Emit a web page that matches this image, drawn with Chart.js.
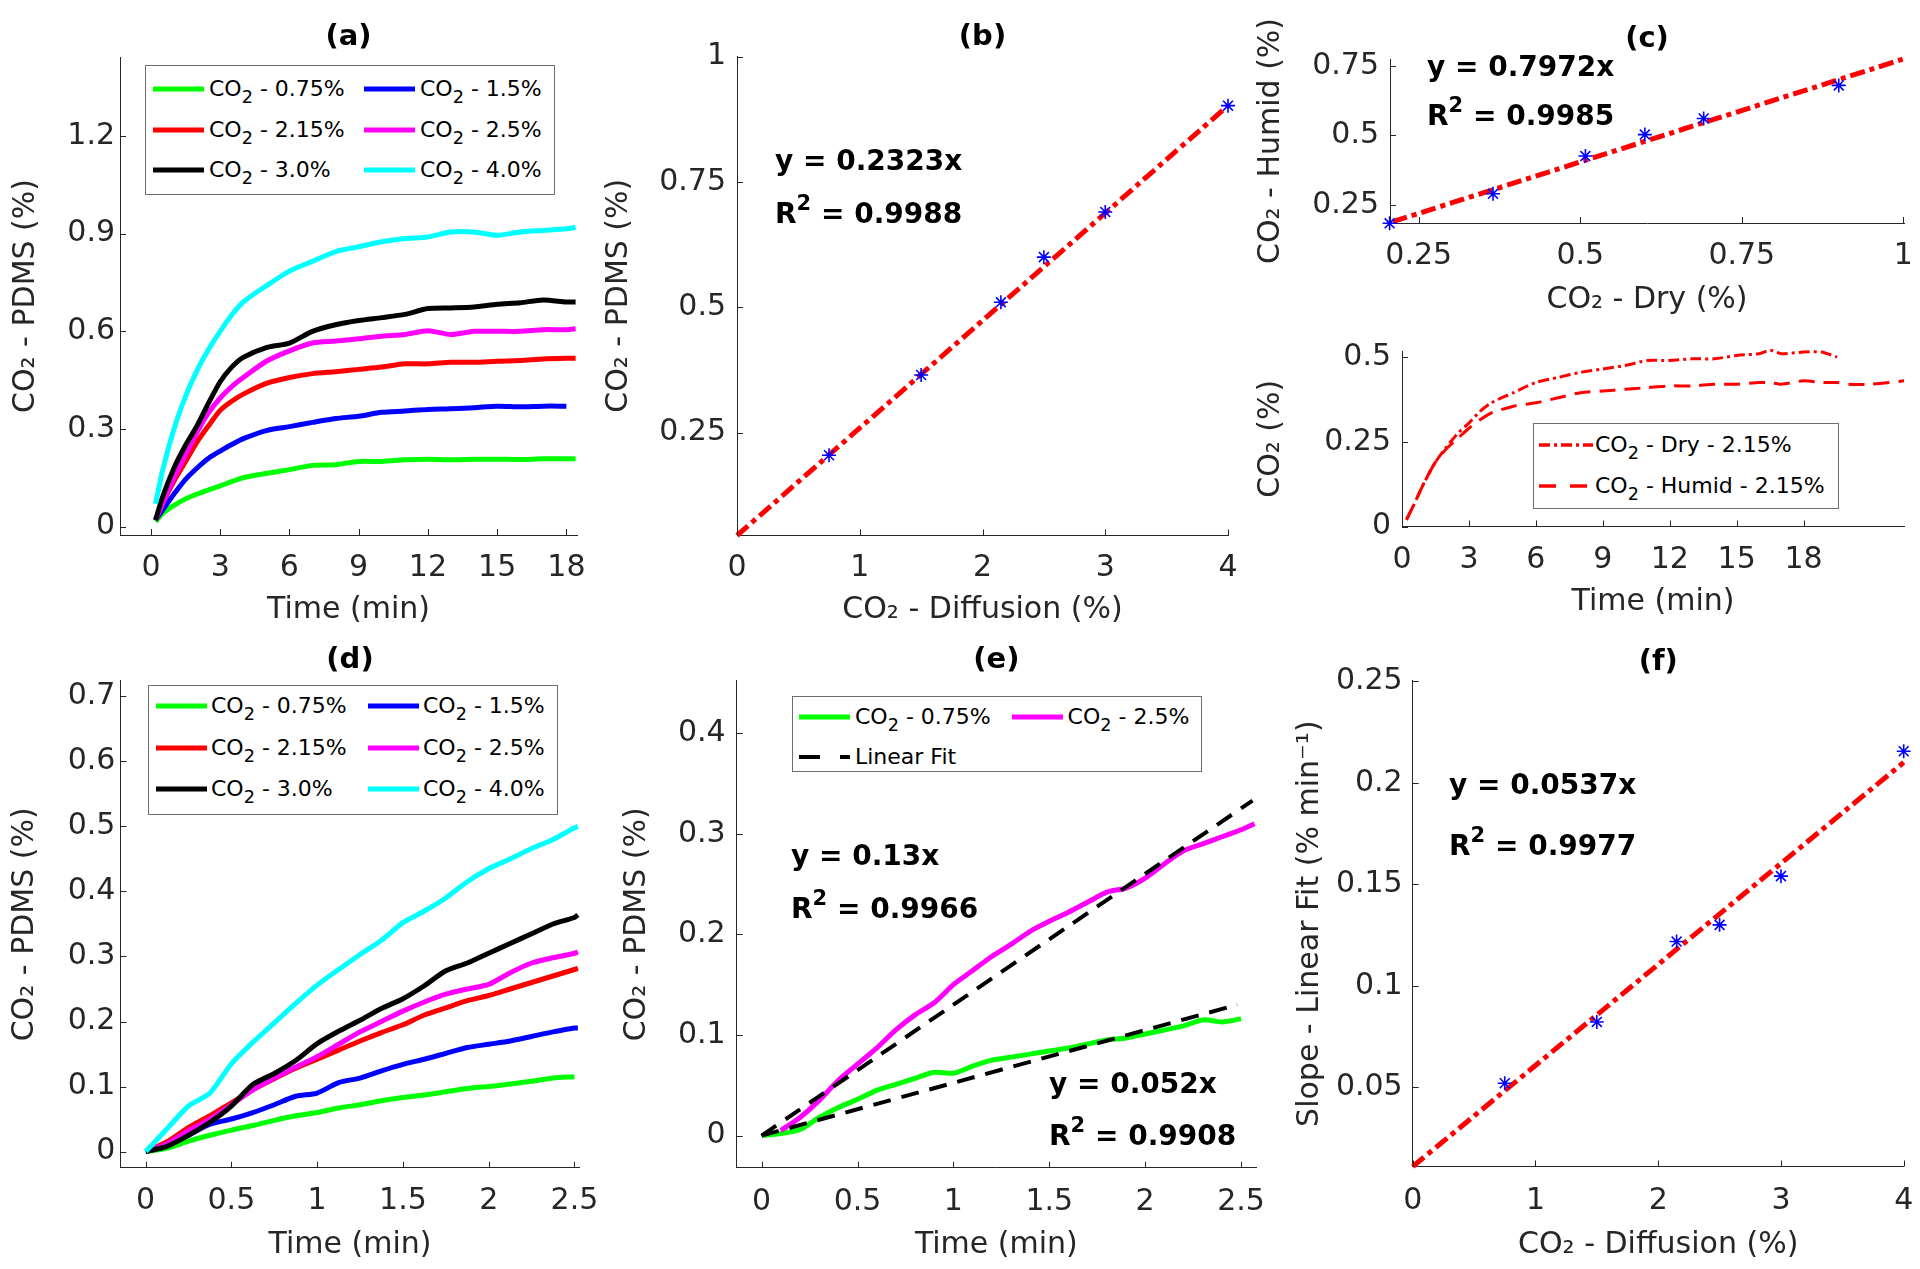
<!DOCTYPE html>
<html>
<head>
<meta charset="utf-8">
<title>CO2 uptake in PDMS</title>
<script src="https://cdn.jsdelivr.net/npm/chart.js@4.4.1/dist/chart.umd.min.js"></script>
<style>
  html, body { margin: 0; padding: 0; background: #fff; }
  body { position: relative; width: 1920px; height: 1269px; overflow: hidden; font-family: 'DejaVu Sans', sans-serif; }
  canvas { position: absolute; left: 0; top: 0; }
  .legend { position: absolute; border: 1px solid #6e6e6e; background: #fff; box-sizing: border-box; }
  .legend .ln { position: absolute; }
  .legend .tx { position: absolute; font-size: 22px; line-height: 22px; white-space: nowrap; color: #000; transform: translateY(-50%); }
  .eq { position: absolute; font-size: 28px; line-height: 28px; font-weight: bold; white-space: nowrap; color: #000; transform: translateY(-50%); }
  sub { font-size: 0.8em; vertical-align: -0.4em; line-height: 0; }
  sup { font-size: 0.75em; vertical-align: 0.6em; line-height: 0; }
</style>
</head>
<body>
<script>
var FONT = "'DejaVu Sans', 'Liberation Sans', sans-serif";
var AXIS = '#262626';

// (a) CO2 in PDMS over 18 min
var concLabels = ['0.75%', '1.5%', '2.15%', '2.5%', '3.0%', '4.0%'];
var concColors = ['#00ff00', '#0000ff', '#ff0000', '#ff00ff', '#000000', '#00ffff'];
var aTime    = [0.2, 0.5, 1, 1.5, 2, 2.5, 3, 3.5, 4, 5, 6, 7, 8, 9, 10, 11, 12, 13, 14, 15, 16, 17, 18, 18.4];
var aGreen   = [0.015, 0.04, 0.065, 0.085, 0.1, 0.113, 0.125, 0.138, 0.15, 0.163, 0.175, 0.188, 0.19, 0.2, 0.2, 0.205, 0.207, 0.205, 0.207, 0.207, 0.206, 0.208, 0.208, 0.208];
var aBlue    = [0.02, 0.05, 0.1, 0.145, 0.18, 0.21, 0.232, 0.252, 0.27, 0.295, 0.307, 0.32, 0.332, 0.339, 0.351, 0.355, 0.36, 0.362, 0.365, 0.37, 0.368, 0.37, 0.37, null];
var aRed     = [0.02, 0.07, 0.14, 0.2, 0.26, 0.31, 0.357, 0.385, 0.407, 0.44, 0.458, 0.47, 0.476, 0.483, 0.49, 0.5, 0.5, 0.505, 0.505, 0.508, 0.51, 0.515, 0.517, 0.517];
var aMagenta = [0.02, 0.07, 0.15, 0.22, 0.29, 0.35, 0.395, 0.43, 0.458, 0.508, 0.54, 0.564, 0.57, 0.577, 0.585, 0.59, 0.602, 0.59, 0.6, 0.6, 0.6, 0.605, 0.605, 0.608];
var aBlack   = [0.02, 0.09, 0.18, 0.25, 0.31, 0.38, 0.445, 0.49, 0.52, 0.55, 0.564, 0.6, 0.62, 0.633, 0.642, 0.652, 0.67, 0.672, 0.675, 0.683, 0.688, 0.696, 0.69, 0.69];
var aCyan    = [0.07, 0.17, 0.3, 0.4, 0.48, 0.545, 0.6, 0.65, 0.69, 0.74, 0.785, 0.815, 0.845, 0.86, 0.875, 0.885, 0.89, 0.905, 0.905, 0.895, 0.905, 0.91, 0.915, 0.92];

// (b) steady state vs diffusion concentration
var bDiffusion = [0.75, 1.5, 2.15, 2.5, 3, 4];
var bPdms      = [0.205, 0.365, 0.51, 0.6, 0.69, 0.902];
var bFitX = [0, 4];
var bFitY = [0.045, 0.902];
var bFitText = ['0.2323', '0.9988'];

// (c) dry vs humid
var cDry   = [0.205, 0.365, 0.508, 0.6, 0.691, 0.9];
var cHumid = [0.184, 0.29, 0.426, 0.503, 0.561, 0.68];
var cFitX = [0.21, 1];
var cFitY = [0.19, 0.775];
var cFitText = ['0.7972', '0.9985'];
var c2Time  = [0.2, 0.5, 1, 1.5, 2, 2.5, 3, 3.5, 4, 5, 6, 7, 8, 9, 10, 11, 12, 13, 14, 15, 16, 16.5, 17, 18, 18.8, 19.5, 20, 21, 22.5];
var c2Dry   = [0.02, 0.06, 0.13, 0.19, 0.235, 0.275, 0.305, 0.34, 0.365, 0.395, 0.425, 0.44, 0.455, 0.465, 0.475, 0.49, 0.49, 0.495, 0.495, 0.505, 0.51, 0.52, 0.51, 0.515, 0.515, 0.5, null, null, null];
var c2Humid = [0.02, 0.06, 0.13, 0.19, 0.23, 0.26, 0.29, 0.315, 0.335, 0.355, 0.365, 0.38, 0.395, 0.4, 0.405, 0.41, 0.415, 0.415, 0.42, 0.42, 0.425, 0.425, 0.42, 0.43, 0.425, 0.425, 0.42, 0.42, 0.43];
var c2Labels = ['Dry - 2.15%', 'Humid - 2.15%'];

// (d) first 2.5 min
var dTime    = [0, 0.125, 0.25, 0.375, 0.5, 0.625, 0.75, 0.875, 1, 1.125, 1.25, 1.375, 1.5, 1.625, 1.75, 1.875, 2, 2.125, 2.25, 2.375, 2.5, 2.52];
var dGreen   = [0, 0.005, 0.016, 0.025, 0.033, 0.04, 0.048, 0.055, 0.06, 0.067, 0.072, 0.078, 0.083, 0.087, 0.092, 0.097, 0.1, 0.104, 0.108, 0.113, 0.115, null];
var dBlue    = [0, 0.01, 0.025, 0.042, 0.05, 0.06, 0.072, 0.085, 0.09, 0.106, 0.113, 0.124, 0.134, 0.142, 0.151, 0.16, 0.165, 0.17, 0.177, 0.184, 0.19, 0.19];
var dRed     = [0, 0.015, 0.037, 0.055, 0.075, 0.095, 0.112, 0.128, 0.142, 0.156, 0.17, 0.183, 0.195, 0.21, 0.221, 0.232, 0.24, 0.25, 0.26, 0.27, 0.28, 0.282];
var dMagenta = [0, 0.012, 0.032, 0.05, 0.072, 0.095, 0.113, 0.13, 0.146, 0.165, 0.184, 0.2, 0.216, 0.23, 0.242, 0.25, 0.257, 0.275, 0.29, 0.298, 0.305, 0.307];
var dBlack   = [0, 0.008, 0.025, 0.045, 0.07, 0.103, 0.12, 0.14, 0.166, 0.185, 0.202, 0.22, 0.235, 0.255, 0.278, 0.29, 0.305, 0.32, 0.335, 0.35, 0.36, 0.364];
var dCyan    = [0, 0.035, 0.07, 0.09, 0.135, 0.168, 0.198, 0.228, 0.256, 0.28, 0.303, 0.325, 0.352, 0.37, 0.39, 0.415, 0.435, 0.45, 0.466, 0.48, 0.498, 0.5];

// (e) linear fits
var eTime    = [0, 0.1, 0.2, 0.3, 0.4, 0.5, 0.6, 0.7, 0.8, 0.9, 1, 1.1, 1.2, 1.3, 1.4, 1.5, 1.6, 1.7, 1.8, 1.9, 2, 2.1, 2.2, 2.3, 2.4, 2.5, 2.57];
var eGreen   = [0, 0.002, 0.006, 0.018, 0.028, 0.036, 0.045, 0.051, 0.057, 0.063, 0.062, 0.069, 0.075, 0.078, 0.081, 0.084, 0.087, 0.091, 0.095, 0.097, 0.101, 0.105, 0.109, 0.115, 0.113, 0.116, null];
var eMagenta = [null, 0.005, 0.018, 0.035, 0.055, 0.071, 0.087, 0.105, 0.12, 0.132, 0.15, 0.164, 0.178, 0.19, 0.203, 0.213, 0.222, 0.232, 0.242, 0.246, 0.256, 0.27, 0.283, 0.29, 0.297, 0.304, 0.31];
var eFitMagX = [0, 2.56];
var eFitMagY = [0, 0.333];
var eFitGreenX = [0, 2.48];
var eFitGreenY = [0, 0.13];
var eFitText = ['0.13', '0.9966', '0.052', '0.9908'];

// (f) slope vs diffusion concentration
var fDiffusion = [0.75, 1.5, 2.15, 2.5, 3, 4];
var fSlope     = [0.052, 0.0822, 0.1218, 0.13, 0.154, 0.2155];
var fFitX = [0, 4];
var fFitY = [0.011, 0.21];
var fFitText = ['0.0537', '0.9977'];

Chart.defaults.font.family = FONT;

function xy(xs, ys) {
  var pts = [];
  for (var i = 0; i < xs.length; i++) {
    if (ys[i] !== null) pts.push({x: xs[i], y: ys[i]});
  }
  return pts;
}
function curve(xs, ys, color, width, dash) {
  return {data: xy(xs, ys), showLine: true, borderColor: color, backgroundColor: color,
    borderWidth: width || 5, borderDash: dash || [], pointRadius: 0, tension: 0.25, clip: false};
}
function stars(xs, ys) {
  return {data: xy(xs, ys), showLine: false, pointStyle: 'star', pointRadius: 7,
    borderColor: '#0000ff', backgroundColor: '#0000ff', borderWidth: 1.6, clip: false};
}
function fmt(v) { return String(Math.round(v * 1000) / 1000); }

// MATLAB style ticks pointing into the axes
var innerTicks = {
  id: 'innerTicks',
  afterDraw: function(chart) {
    var ctx = chart.ctx, a = chart.chartArea;
    var sx = chart.scales.x, sy = chart.scales.y;
    ctx.save();
    ctx.strokeStyle = AXIS;
    ctx.lineWidth = 1;
    ctx.beginPath();
    sx.ticks.forEach(function(t) {
      var px = Math.round(sx.getPixelForValue(t.value)) + 0.5;
      ctx.moveTo(px, a.bottom); ctx.lineTo(px, a.bottom - 6);
    });
    sy.ticks.forEach(function(t) {
      var py = Math.round(sy.getPixelForValue(t.value)) + 0.5;
      ctx.moveTo(a.left, py); ctx.lineTo(a.left + 6, py);
    });
    ctx.stroke();
    ctx.restore();
  }
};

function makePanel(p) {
  var cv = document.createElement('canvas');
  cv.width = 2000; cv.height = 1300;
  document.body.appendChild(cv);
  var titleLh = 29 * 1.2, axLh = 30 * 1.2;
  var padLeft = p.yTitleX - axLh / 2;
  var padTop = p.title ? p.titleY - titleLh / 2 : p.T;
  var hx = p.xTitleY + axLh / 2 - p.B;
  return new Chart(cv, {
    type: 'scatter',
    data: {datasets: p.datasets},
    options: {
      responsive: false, animation: false, devicePixelRatio: 1, events: [],
      layout: {padding: {left: padLeft, top: padTop, right: 2000 - p.R, bottom: 1300 - p.B - hx}},
      plugins: {
        legend: {display: false},
        tooltip: {enabled: false},
        title: {display: !!p.title, text: p.title, fullSize: false, color: '#000',
          font: {size: 29, weight: 'bold', lineHeight: 1.2},
          padding: {top: 0, bottom: p.title ? p.T - padTop - titleLh : 0}}
      },
      scales: {
        x: {
          type: 'linear', min: p.xMin, max: p.xMax,
          grid: {display: false, drawTicks: false},
          border: {display: true, color: AXIS, width: 1},
          ticks: {stepSize: p.xStep, includeBounds: false, autoSkip: false, maxRotation: 0,
            padding: p.xLabelY - p.B - 18, color: AXIS, font: {size: 30, lineHeight: 1.2}, callback: fmt},
          title: {display: true, text: p.xTitle, color: AXIS, padding: 0, font: {size: 30, lineHeight: 1.2}},
          afterBuildTicks: function(s) {
            if (p.xTickMax !== undefined) s.ticks = s.ticks.filter(function(t) { return t.value <= p.xTickMax; });
          },
          afterFit: function(s) { s.height = hx; }
        },
        y: {
          type: 'linear', min: p.yMin, max: p.yMax,
          grid: {display: false, drawTicks: false},
          border: {display: true, color: AXIS, width: 1},
          ticks: {stepSize: p.yStep, includeBounds: false, autoSkip: false,
            padding: p.yGap, color: AXIS, font: {size: 30, lineHeight: 1.2}, callback: fmt},
          title: {display: true, text: p.yTitle, color: AXIS, padding: 0, font: {size: 30, lineHeight: 1.2}},
          afterFit: function(s) { s.width = p.L - padLeft; }
        }
      }
    },
    plugins: [innerTicks]
  });
}

function addLegend(box, lay, items) {
  var div = document.createElement('div');
  div.className = 'legend';
  div.style.cssText = 'left:' + box[0] + 'px;top:' + box[1] + 'px;width:' + box[2] + 'px;height:' + box[3] + 'px;';
  var html = '';
  items.forEach(function(it, i) {
    var col = i % lay.cols, row = Math.floor(i / lay.cols);
    var cy = lay.rowY[row], lx = lay.lineX[col];
    html += '<svg class="ln" width="' + lay.lineLen + '" height="12" style="left:' + lx + 'px;top:' + (cy - 6) + 'px">' +
      '<line x1="0" y1="6" x2="' + lay.lineLen + '" y2="6" stroke="' + it.color + '" stroke-width="' + it.width + '"' +
      (it.dash ? ' stroke-dasharray="' + it.dash + '"' : '') + '/></svg>' +
      '<div class="tx" style="left:' + (lx + lay.lineLen + lay.gap) + 'px;top:' + cy + 'px">' + it.text + '</div>';
  });
  div.innerHTML = html;
  document.body.appendChild(div);
}

function addEq(x, y, html) {
  var d = document.createElement('div');
  d.className = 'eq';
  d.style.left = x + 'px';
  d.style.top = y + 'px';
  d.innerHTML = html;
  document.body.appendChild(d);
}

// (a)
var aSeries = [aGreen, aBlue, aRed, aMagenta, aBlack, aCyan];
makePanel({
  L: 120, T: 57, R: 577, B: 535, xMin: -1.34, xMax: 18.46, xStep: 3, yMin: -0.026, yMax: 1.443, yStep: 0.3,
  title: '(a)', titleY: 37, xTitle: 'Time (min)', xTitleY: 610, yTitle: 'CO₂ - PDMS (%)', yTitleX: 26, xLabelY: 568, yGap: 5,
  datasets: aSeries.map(function(s, i) { return curve(aTime, s, concColors[i]); }).reverse()
});

// (b)
makePanel({
  L: 737, T: 56, R: 1228, B: 535.5, xMin: 0, xMax: 4, xStep: 1, yMin: 0.045, yMax: 1.001, yStep: 0.25,
  title: '(b)', titleY: 37, xTitle: 'CO₂ - Diffusion (%)', xTitleY: 610, yTitle: 'CO₂ - PDMS (%)', yTitleX: 619, xLabelY: 568, yGap: 11,
  datasets: [stars(bDiffusion, bPdms), curve(bFitX, bFitY, '#ff0000', 5, [15, 5, 5, 5])]
});

// (c) top
makePanel({
  L: 1390, T: 59, R: 1904, B: 223, xMin: 0.2056, xMax: 1.001, xStep: 0.25, yMin: 0.185, yMax: 0.775, yStep: 0.25,
  title: '(c)', titleY: 39, xTitle: 'CO₂ - Dry (%)', xTitleY: 300, yTitle: 'CO₂ - Humid (%)', yTitleX: 1271, xLabelY: 256, yGap: 11,
  datasets: [stars(cDry, cHumid), curve(cFitX, cFitY, '#ff0000', 5, [15, 5, 5, 5])]
});

// (c) bottom
makePanel({
  L: 1402, T: 351, R: 1904, B: 526.5, xMin: 0, xMax: 22.5, xStep: 3, xTickMax: 18, yMin: 0, yMax: 0.518, yStep: 0.25,
  title: '', xTitle: 'Time (min)', xTitleY: 602, yTitle: 'CO₂ (%)', yTitleX: 1271, xLabelY: 560, yGap: 11,
  datasets: [curve(c2Time, c2Dry, '#ff0000', 3, [11, 4, 3, 4]), curve(c2Time, c2Humid, '#ff0000', 3, [16, 9])]
});

// (d)
var dSeries = [dGreen, dBlue, dRed, dMagenta, dBlack, dCyan];
makePanel({
  L: 120.4, T: 680.8, R: 579.6, B: 1167.8, xMin: -0.147, xMax: 2.53, xStep: 0.5, yMin: -0.025, yMax: 0.724, yStep: 0.1,
  title: '(d)', titleY: 660, xTitle: 'Time (min)', xTitleY: 1245, yTitle: 'CO₂ - PDMS (%)', yTitleX: 25, xLabelY: 1201, yGap: 5,
  datasets: dSeries.map(function(s, i) { return curve(dTime, s, concColors[i]); }).reverse()
});

// (e)
makePanel({
  L: 736.7, T: 680.8, R: 1256, B: 1167.8, xMin: -0.13, xMax: 2.578, xStep: 0.5, yMin: -0.032, yMax: 0.452, yStep: 0.1,
  title: '(e)', titleY: 660, xTitle: 'Time (min)', xTitleY: 1245, yTitle: 'CO₂ - PDMS (%)', yTitleX: 637, xLabelY: 1202, yGap: 11,
  datasets: [
    curve(eFitMagX, eFitMagY, '#000000', 4, [18, 11]),
    curve(eFitGreenX, eFitGreenY, '#000000', 4, [18, 11]),
    curve(eTime, eMagenta, '#ff00ff'),
    curve(eTime, eGreen, '#00ff00')
  ]
});

// (f)
makePanel({
  L: 1412.7, T: 680.8, R: 1903.7, B: 1166.5, xMin: 0, xMax: 4, xStep: 1, yMin: 0.011, yMax: 0.2502, yStep: 0.05,
  title: '(f)', titleY: 662, xTitle: 'CO₂ - Diffusion (%)', xTitleY: 1245, yTitle: 'Slope - Linear Fit (% min⁻¹)', yTitleX: 1310, xLabelY: 1201, yGap: 10,
  datasets: [stars(fDiffusion, fSlope), curve(fFitX, fFitY, '#ff0000', 5, [15, 5, 5, 5])]
});

// legends
var concItems = concLabels.map(function(l, i) {
  return {text: 'CO<sub>2</sub> - ' + l, color: concColors[i], width: 5};
});
addLegend([145, 65, 410, 130], {cols: 2, rowY: [23, 63.5, 104], lineX: [7, 218], lineLen: 51, gap: 5}, concItems);
addLegend([148, 685, 410, 130], {cols: 2, rowY: [20, 62, 103], lineX: [7, 219], lineLen: 51, gap: 4}, concItems);
addLegend([792, 696, 410, 76], {cols: 2, rowY: [19.5, 59.5], lineX: [6, 218.6], lineLen: 51, gap: 5}, [
  {text: 'CO<sub>2</sub> - ' + concLabels[0], color: concColors[0], width: 5},
  {text: 'CO<sub>2</sub> - ' + concLabels[3], color: concColors[3], width: 5},
  {text: 'Linear Fit', color: '#000000', width: 4, dash: '21 20'}
]);
addLegend([1533, 423, 306, 86], {cols: 1, rowY: [20.5, 62], lineX: [5], lineLen: 54, gap: 2}, [
  {text: 'CO<sub>2</sub> - ' + c2Labels[0], color: '#ff0000', width: 3.5, dash: '11 4 3 4'},
  {text: 'CO<sub>2</sub> - ' + c2Labels[1], color: '#ff0000', width: 3.5, dash: '17 14'}
]);

// fit equations
addEq(775, 161, 'y = ' + bFitText[0] + 'x');
addEq(775, 214, 'R<sup>2</sup> = ' + bFitText[1]);
addEq(1427, 67, 'y = ' + cFitText[0] + 'x');
addEq(1427, 116, 'R<sup>2</sup> = ' + cFitText[1]);
addEq(791, 856, 'y = ' + eFitText[0] + 'x');
addEq(791, 909, 'R<sup>2</sup> = ' + eFitText[1]);
addEq(1049, 1084, 'y = ' + eFitText[2] + 'x');
addEq(1049, 1136, 'R<sup>2</sup> = ' + eFitText[3]);
addEq(1449, 785, 'y = ' + fFitText[0] + 'x');
addEq(1449, 846, 'R<sup>2</sup> = ' + fFitText[1]);
</script>
</body>
</html>
